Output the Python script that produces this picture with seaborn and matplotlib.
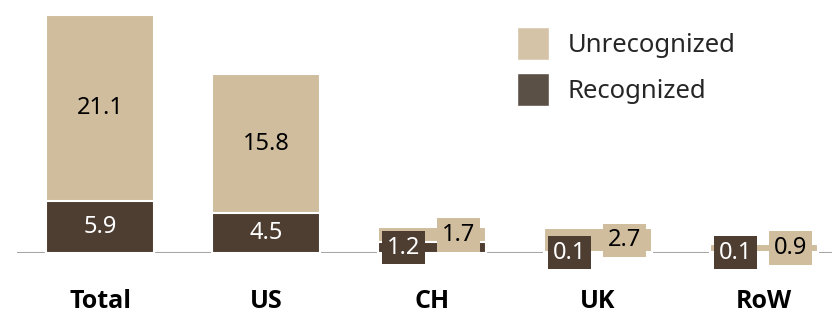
import matplotlib
matplotlib.use('Agg')
import matplotlib.pyplot as plt
import seaborn as sns
from matplotlib.patches import Patch

categories = ['Total', 'US', 'CH', 'UK', 'RoW']
recognized = [5.9, 4.5, 1.2, 0.1, 0.1]
unrecognized = [21.1, 15.8, 1.7, 2.7, 0.9]
totals = [r + u for r, u in zip(recognized, unrecognized)]

tan = '#CFBD9E'
dark = '#4E3D31'

sns.set_style('white')
plt.rcParams['font.family'] = ['Noto Sans', 'DejaVu Sans']

fig = plt.figure(figsize=(8.32, 3.18), dpi=100)
ax = fig.add_axes([17 / 832, 65 / 318, 815 / 832, 253 / 318])

sns.barplot(x=categories, y=totals, color=tan, saturation=1, width=0.65,
            edgecolor='white', linewidth=1.5, ax=ax, zorder=2)
sns.barplot(x=categories, y=recognized, color=dark, saturation=1, width=0.65,
            edgecolor='white', linewidth=1.5, ax=ax, zorder=3)
ax.axhline(0, color='#A6A6A6', lw=1.5, zorder=1)

# value labels
for i, (r, u) in enumerate(zip(recognized, unrecognized)):
    if r + u > 10:
        ax.text(i, r / 2, f'{r:.1f}', ha='center', va='center', color='white',
                fontsize=17, zorder=5)
        ax.text(i, r + u / 2, f'{u:.1f}', ha='center', va='center', color='black',
                fontsize=17, zorder=5)
    else:
        ax.text(i - 0.17, r / 2, f'{r:.1f}', ha='center', va='center', color='white',
                fontsize=17, zorder=6, clip_on=False,
                bbox=dict(boxstyle='square,pad=0.2', fc=dark, ec='none'))
        ax.text(i + 0.16, r + u / 2, f'{u:.1f}', ha='center', va='center', color='black',
                fontsize=17, zorder=5, clip_on=False,
                bbox=dict(boxstyle='square,pad=0.2', fc=tan, ec='none'))

ax.set_xlim(-0.5, (832 - 100) / 166)
ax.set_ylim(0, 253 / 8.8)
ax.set_yticks([])
ax.set_xlabel('')
ax.set_ylabel('')
for s in ax.spines.values():
    s.set_visible(False)
ax.set_xticks(range(len(categories)))
ax.set_xticklabels(categories, fontsize=18, fontweight='bold', color='black',
                   family=['Open Sans', 'DejaVu Sans'])
ax.tick_params(axis='x', length=0, pad=26)

handles = [Patch(facecolor='#D5C3A8', label='Unrecognized'),
           Patch(facecolor='#5A5046', label='Recognized')]
fig.legend(handles=handles, loc='upper left', bbox_to_anchor=(517 / 832, 1 - 27 / 318),
           frameon=False, fontsize=18.5, borderpad=0, borderaxespad=0,
           handlelength=1.25, handleheight=1.6, handletextpad=0.72, labelspacing=0.5)

fig.savefig('out.png', dpi=100)
